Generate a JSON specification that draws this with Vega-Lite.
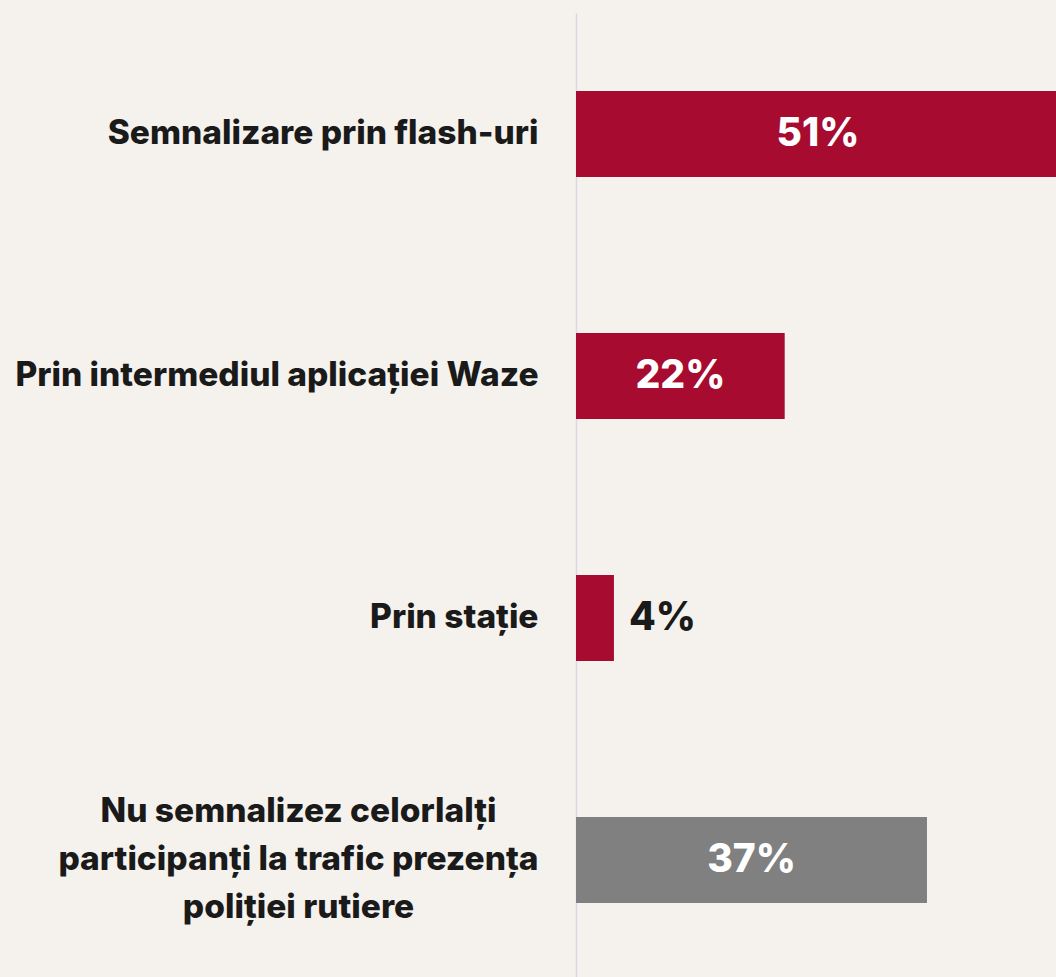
{
  "$schema": "https://vega.github.io/schema/vega-lite/v6.json",
  "width": 480,
  "height": 968,
  "autosize": {"type": "none"},
  "padding": {"left": 576, "top": 13, "right": 0, "bottom": 0},
  "background": "#f5f2ee",
  "config": {"view": {"stroke": null}},
  "data": {
    "values": [
      {"answer": "Semnalizare prin flash-uri", "value": 51, "label": "51%", "group": "semnalizez"},
      {"answer": "Prin intermediul aplicației Waze", "value": 22, "label": "22%", "group": "semnalizez"},
      {"answer": "Prin stație", "value": 4, "label": "4%", "group": "semnalizez"},
      {"answer": "Nu semnalizez celorlalți|participanți la trafic prezența|poliției rutiere", "value": 37, "label": "37%", "group": "nu"}
    ]
  },
  "encoding": {
    "y": {
      "field": "answer",
      "type": "nominal",
      "sort": null,
      "scale": {"paddingInner": 0.645, "paddingOuter": 0.3225},
      "axis": {
        "title": null,
        "domainColor": "#d9d8ea",
        "domainWidth": 1.5,
        "ticks": false,
        "tickSize": 0,
        "labelFont": "Inter",
        "labelFontWeight": 800,
        "labelFontSize": 33.5,
        "labelColor": "#1a1a1a",
        "labelLimit": 600,
        "labelLineHeight": 48,
        "labelBaseline": "middle",
        "labelExpr": "split(datum.label, '|')",
        "labelAlign": {"condition": {"test": "indexof(datum.value, '|') >= 0", "value": "center"}, "value": "right"},
        "labelPadding": {"condition": {"test": "indexof(datum.value, '|') >= 0", "value": 278}, "value": 38},
        "labelOffset": {"condition": {"test": "indexof(datum.value, '|') >= 0", "value": -48}, "value": 0}
      }
    }
  },
  "layer": [
    {
      "mark": {"type": "bar"},
      "encoding": {
        "x": {"field": "value", "type": "quantitative", "scale": {"domain": [0, 50.6], "nice": false}, "axis": null},
        "color": {"field": "group", "type": "nominal", "scale": {"domain": ["semnalizez", "nu"], "range": ["#a70b30", "#808080"]}, "legend": null}
      }
    },
    {
      "transform": [{"filter": "datum.value >= 10"}, {"calculate": "datum.value / 2", "as": "mid"}],
      "mark": {"type": "text", "font": "Inter", "fontWeight": 800, "fontSize": 39, "color": "#ffffff", "align": "center", "baseline": "middle"},
      "encoding": {
        "x": {"field": "mid", "type": "quantitative"},
        "text": {"field": "label", "type": "nominal"}
      }
    },
    {
      "transform": [{"filter": "datum.value < 10"}],
      "mark": {"type": "text", "font": "Inter", "fontWeight": 800, "fontSize": 39, "color": "#1a1a1a", "align": "left", "baseline": "middle", "dx": 15},
      "encoding": {
        "x": {"field": "value", "type": "quantitative"},
        "text": {"field": "label", "type": "nominal"}
      }
    }
  ]
}
